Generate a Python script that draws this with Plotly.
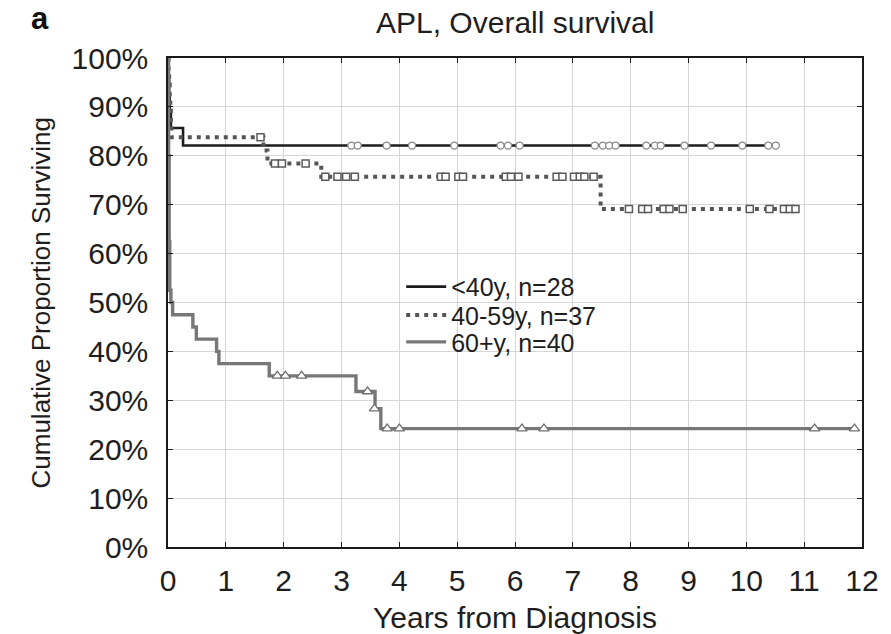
import plotly.graph_objects as go

# Kaplan-Meier step data (years, % surviving) by age group
t_lt40 = [0, 0.01, 0.02, 0.03, 0.05, 0.26, 10.51]
s_lt40 = [100, 96.4, 92.9, 89.3, 85.7, 82.1, 82.1]
cens_t_lt40 = [3.17, 3.28, 3.78, 4.22, 4.95, 5.75, 5.88, 6.08, 7.38, 7.52, 7.63,
               7.74, 8.27, 8.42, 8.52, 8.93, 9.39, 9.93, 10.38, 10.51]
cens_s_lt40 = [82.1] * len(cens_t_lt40)

t_4059 = [0, 0.01, 0.02, 0.03, 0.04, 0.05, 0.06, 1.65, 1.72, 2.65, 7.48, 10.85]
s_4059 = [100, 97.3, 94.6, 91.9, 89.2, 86.5, 83.8, 81.1, 78.4, 75.7, 69.1, 69.1]
cens_t_4059 = [1.60, 1.85, 1.97, 2.38,
               2.72, 2.93, 3.08, 3.23, 4.72, 4.80, 5.02, 5.10, 5.84, 5.93, 6.06,
               6.72, 6.82, 7.02, 7.12, 7.20, 7.36,
               7.97, 8.20, 8.30, 8.57, 8.67, 8.90, 10.06, 10.40, 10.65, 10.75, 10.85]
cens_s_4059 = [83.8, 78.4, 78.4, 78.4] + [75.7] * 17 + [69.1] * 11

t_60 = [0, 0.01, 0.02, 0.03, 0.05, 0.08, 0.43, 0.49, 0.84, 0.88, 1.75, 3.25,
        3.58, 3.68, 11.87]
s_60 = [100, 80.0, 62.5, 52.5, 50.0, 47.5, 45.0, 42.5, 40.0, 37.5, 35.0, 31.8,
        28.3, 24.2, 24.2]
cens_t_60 = [1.89, 2.03, 2.31, 3.45, 3.57, 3.79, 4.00, 6.12, 6.50, 11.18, 11.87]
cens_s_60 = [35.0, 35.0, 35.0, 31.8, 28.3, 24.2, 24.2, 24.2, 24.2, 24.2, 24.2]

labels = ["<40y, n=28", "40-59y, n=37", "60+y, n=40"]
x_ticks = list(range(0, 13))
y_ticks = list(range(0, 101, 10))
y_tick_text = [f"{v}%" for v in y_ticks]

FONT = "Liberation Sans, Arial, sans-serif"
TXT = "#1e1e1e"

fig = go.Figure()

# survival curves, each with its own legend box so the rows sit tightly
fig.add_trace(go.Scatter(x=t_lt40, y=s_lt40, mode="lines", line_shape="hv",
                         line=dict(color="#1c1c1c", width=2.6), name=labels[0],
                         legend="legend"))
fig.add_trace(go.Scatter(x=t_4059, y=s_4059, mode="lines", line_shape="hv",
                         line=dict(color="#555555", width=4, dash="4px,5px"),
                         name=labels[1], legend="legend2"))
fig.add_trace(go.Scatter(x=t_60, y=s_60, mode="lines", line_shape="hv",
                         line=dict(color="#777777", width=3.4), name=labels[2],
                         legend="legend3"))

# censoring marks
fig.add_trace(go.Scatter(x=cens_t_lt40, y=cens_s_lt40, mode="markers", showlegend=False,
                         marker=dict(symbol="circle", size=7, color="white",
                                     line=dict(color="#8a8a8a", width=1.3)),
                         cliponaxis=False))
fig.add_trace(go.Scatter(x=cens_t_4059, y=cens_s_4059, mode="markers", showlegend=False,
                         marker=dict(symbol="square", size=7, color="white",
                                     line=dict(color="#5a5a5a", width=1.5)),
                         cliponaxis=False))
fig.add_trace(go.Scatter(x=cens_t_60, y=cens_s_60, mode="markers", showlegend=False,
                         marker=dict(symbol="triangle-up", size=9, color="white",
                                     line=dict(color="#707070", width=1.3)),
                         cliponaxis=False))

axis_common = dict(showgrid=True, gridcolor="#d6d6d6", gridwidth=1,
                   showline=True, linecolor="#1a1a1a", linewidth=1.5, mirror="ticks",
                   ticks="inside", ticklen=5, tickcolor="#1a1a1a", zeroline=False,
                   tickfont=dict(family=FONT, size=30, color=TXT))

fig.update_xaxes(range=[0, 12], tickvals=x_ticks, ticklabelstandoff=6, **axis_common)
fig.update_yaxes(range=[0, 100], tickvals=y_ticks, ticktext=y_tick_text,
                 ticklabelstandoff=12, **axis_common)

legend_common = dict(x=0.336, xanchor="left", yanchor="middle",
                     bgcolor="rgba(0,0,0,0)",
                     font=dict(family=FONT, size=25, color=TXT), itemwidth=40)

fig.update_layout(
    width=891, height=634,
    margin=dict(l=168, r=24, t=58, b=87),
    plot_bgcolor="white", paper_bgcolor="white",
    legend=dict(y=0.532, **legend_common),
    legend2=dict(y=0.474, **legend_common),
    legend3=dict(y=0.419, **legend_common),
    annotations=[
        dict(text="APL, Overall survival", xref="paper", yref="paper", x=0.5, y=1,
             yshift=36, xanchor="center", yanchor="middle", showarrow=False,
             font=dict(family=FONT, size=30, color=TXT)),
        dict(text="<b>a</b>", xref="paper", yref="paper", x=-0.184, y=1,
             yshift=40, xanchor="center", yanchor="middle", showarrow=False,
             font=dict(family=FONT, size=31, color="#111")),
        dict(text="Cumulative Proportion Surviving", xref="paper", yref="paper",
             x=-0.183, y=0.5, textangle=-90, xanchor="center", yanchor="middle",
             showarrow=False, font=dict(family=FONT, size=26, color=TXT)),
        dict(text="Years from Diagnosis", xref="paper", yref="paper", x=0.5, y=0,
             yshift=-70, xanchor="center", yanchor="middle", showarrow=False,
             font=dict(family=FONT, size=30, color=TXT)),
    ],
)

fig.write_html("out.html")
